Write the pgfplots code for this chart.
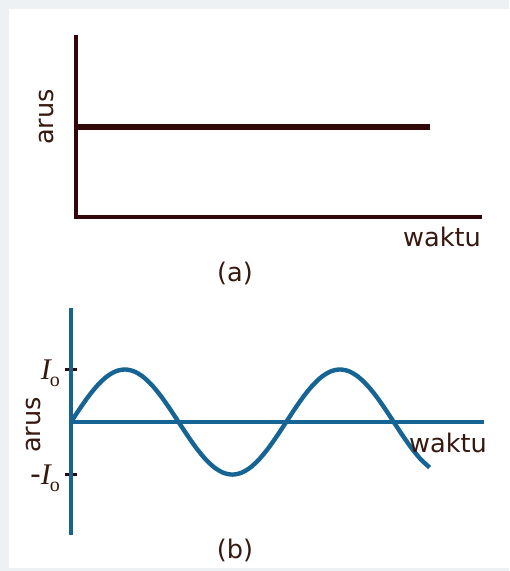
\documentclass[border=0pt]{standalone}
\usepackage{pgfplots}
\pgfplotsset{compat=1.18}
\usepackage{fontspec}
\setmainfont{DejaVu Sans}
\newfontfamily\serif{Liberation Serif}
\definecolor{darkbrown}{RGB}{48,8,8}
\definecolor{txtbrown}{RGB}{55,25,15}
\definecolor{wavblue}{RGB}{22,100,148}
\definecolor{framegray}{RGB}{238,241,244}
\newcommand{\lbl}{\fontsize{12.8}{15}\selectfont\color{txtbrown}}
\newcommand{\Io}{{\serif\itshape I}\kern-0.5pt\raisebox{-0.45ex}{\serif\fontsize{10}{10}\selectfont o}}
\begin{document}
\begin{tikzpicture}[x=0.5pt,y=-0.5pt]
% page frame
\fill[framegray] (0,0) rectangle (509,571);
\fill[white] (9,9) rectangle (509,568);

% (a) direct current
\begin{axis}[
    at={(38pt,-108.5pt)}, anchor=south west,
    scale only axis, width=202pt, height=90pt,
    xmin=0, xmax=1, ymin=0, ymax=1,
    axis lines=left,
    axis line style={-, line width=1.8pt, darkbrown, line cap=rect},
    xtick=\empty, ytick=\empty,
    clip=false,
]
\addplot[darkbrown, line width=3.3pt] coordinates {(0,0.5) (0.876,0.5)};
\end{axis}
\node[rotate=90, font=\lbl] at (47,117) {arus};
\node[font=\lbl] at (442,237) {waktu};
\node[font=\lbl] at (235,273) {(a)};

% (b) alternating current
\begin{axis}[
    at={(35.5pt,-267.5pt)}, anchor=south west,
    scale only axis, width=206.5pt, height=113.5pt,
    xmin=0, xmax=691, ymin=-2.15, ymax=2.17,
    axis lines=middle,
    axis line style={-, line width=1.7pt, wavblue},
    xtick=\empty,
    ytick={-1,1},
    yticklabels={{-\Io},{\Io}},
    yticklabel style={font=\fontsize{15}{16}\selectfont\color{txtbrown}, xshift=1pt, yshift=-2pt},
    tick style={line width=1.6pt, darkbrown},
    tick align=center,
    major tick length=6pt,
    clip=false,
]
\addplot[wavblue, line width=2.2pt, smooth] coordinates {
    (0,0) (15,0.259) (30,0.5) (45,0.707) (60,0.866) (75,0.966) (90,1)
    (105,0.966) (120,0.866) (135,0.707) (150,0.5) (165,0.259)
    (180,0) (195,-0.259) (210,-0.5) (225,-0.707) (240,-0.866) (255,-0.966) (270,-1)
    (285,-0.966) (300,-0.866) (315,-0.707) (330,-0.5) (345,-0.259)
    (360,0) (375,0.259) (390,0.5) (405,0.707) (420,0.866) (435,0.966) (450,1)
    (465,0.966) (480,0.866) (495,0.707) (510,0.5) (525,0.259)
    (540,0) (555,-0.259) (570,-0.5) (585,-0.707) (600,-0.866)
};
\end{axis}
\node[rotate=90, font=\lbl] at (34,425) {arus};
\node[font=\lbl] at (448,443) {waktu};
\node[font=\lbl] at (235,550) {(b)};
\end{tikzpicture}
\end{document}
